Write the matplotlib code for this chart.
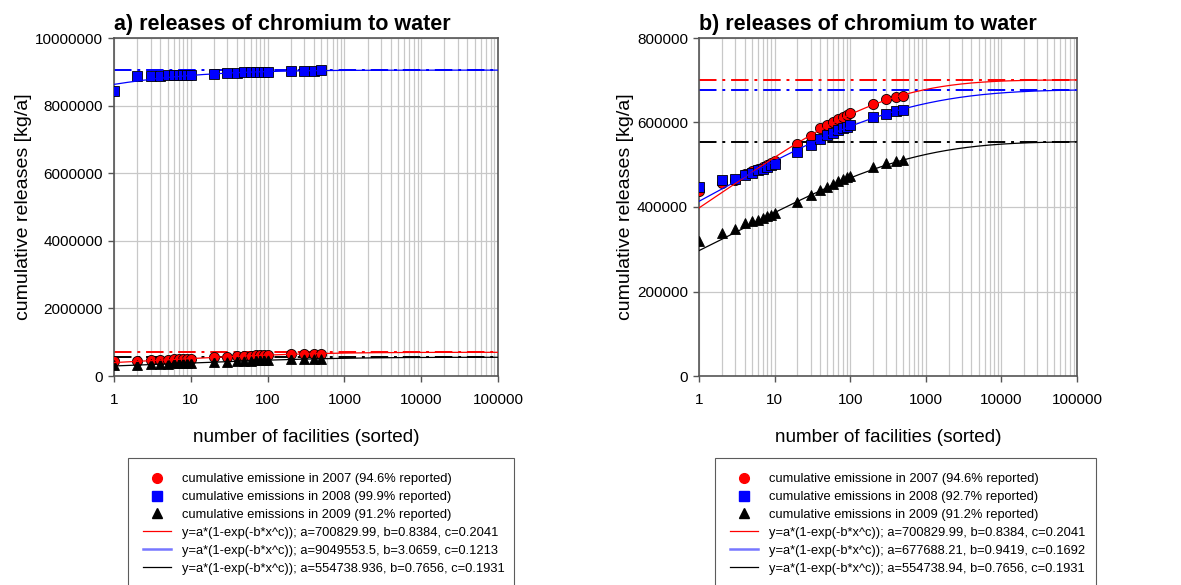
import numpy as np
import matplotlib
matplotlib.use('Agg')
import matplotlib.pyplot as plt
from matplotlib.lines import Line2D

plt.rcParams['font.family'] = ['Liberation Sans', 'DejaVu Sans']

# number of facilities (sorted)
facilities = [1, 2, 3, 4, 5, 6, 7, 8, 9, 10,
              20, 30, 40, 50, 60, 70, 80, 90, 100,
              200, 300, 400, 500]

# cumulative releases [kg/a]
rel_2007 = [438000, 457000, 465000, 477000, 485000, 491000, 495000, 500000, 505000, 510000,
            550000, 567000, 586000, 593000, 601000, 608000, 613000, 617000, 622000,
            643000, 655000, 660000, 662000]
rel_2008_a = [8420000, 8870000, 8880000, 8890000, 8900000, 8900000, 8905000, 8910000, 8910000, 8915000,
              8940000, 8960000, 8970000, 8980000, 8985000, 8990000, 9000000, 9000000, 9005000,
              9020000, 9030000, 9035000, 9040000]
rel_2008_b = [447000, 463000, 467000, 475000, 481000, 487000, 491000, 495000, 499000, 501000,
              530000, 546000, 562000, 570000, 576000, 582000, 586000, 589000, 593000,
              612000, 621000, 627000, 629000]
rel_2009 = [320000, 338000, 349000, 361000, 366000, 370000, 375000, 379000, 382000, 386000,
            412000, 428000, 440000, 447000, 455000, 462000, 466000, 470000, 473000,
            495000, 503000, 509000, 511000]

# fit parameters y=a*(1-exp(-b*x^c))
fit_2007 = (700829.99, 0.8384, 0.2041)
fit_2008_a = (9049553.5, 3.0659, 0.1213)
fit_2008_b = (677688.21, 0.9419, 0.1692)
fit_2009 = (554738.936, 0.7656, 0.1931)

labels_pts_a = ['cumulative emissione in 2007 (94.6% reported)',
                'cumulative emissions in 2008 (99.9% reported)',
                'cumulative emissions in 2009 (91.2% reported)']
labels_pts_b = ['cumulative emissione in 2007 (94.6% reported)',
                'cumulative emissions in 2008 (92.7% reported)',
                'cumulative emissions in 2009 (91.2% reported)']
labels_fit_a = ['y=a*(1-exp(-b*x^c)); a=700829.99, b=0.8384, c=0.2041',
                'y=a*(1-exp(-b*x^c)); a=9049553.5, b=3.0659, c=0.1213',
                'y=a*(1-exp(-b*x^c)); a=554738.936, b=0.7656, c=0.1931']
labels_fit_b = ['y=a*(1-exp(-b*x^c)); a=700829.99, b=0.8384, c=0.2041',
                'y=a*(1-exp(-b*x^c)); a=677688.21, b=0.9419, c=0.1692',
                'y=a*(1-exp(-b*x^c)); a=554738.94, b=0.7656, c=0.1931']

colors = ['#ff0000', '#0000ff', '#000000']
markers = ['o', 's', '^']

W, H = 1181, 585
fig = plt.figure(figsize=(W / 100, H / 100), dpi=100)


def fx(px):
    return px / W


def fy(py):
    return 1 - py / H


def model(x, p):
    a, b, c = p
    return a * (1 - np.exp(-b * x ** c))


def draw_panel(ax, series, fits, title, ymax, ystep, lab_pts, lab_fit, leg_box):
    xs = np.logspace(0, 5, 400)
    for (a, b, c), col in zip(fits, colors):
        ax.axhline(a, color=col, lw=1.4, ls=(0, (9, 3, 1.5, 3)), zorder=2)
    for vals, col, m in zip(series, colors, markers):
        ax.plot(facilities, vals, ls='none', marker=m, ms=7.3, mfc=col,
                mec='black', mew=0.6, zorder=3)
    for p, col in zip(fits, colors):
        ax.plot(xs, model(xs, p), color=col, lw=0.9, zorder=4)

    ax.set_xscale('log')
    ax.set_xlim(1, 100000)
    ax.set_ylim(0, ymax)
    ax.set_xticks([1, 10, 100, 1000, 10000, 100000])
    ax.set_xticklabels(['1', '10', '100', '1000', '10000', '100000'])
    ax.set_yticks(np.arange(0, ymax + 1, ystep))
    ax.set_yticklabels([str(int(v)) for v in np.arange(0, ymax + 1, ystep)])
    ax.grid(True, which='both', axis='x', color='#c8c8c8', lw=0.9)
    ax.grid(True, which='major', axis='y', color='#c8c8c8', lw=0.9)
    ax.set_axisbelow(True)
    ax.tick_params(which='minor', length=0)
    ax.tick_params(which='major', direction='out', length=4, width=1,
                   color='#555555', labelsize=11, pad=4)
    ax.tick_params(axis='x', pad=8)
    for s in ax.spines.values():
        s.set_color('#555555')
        s.set_linewidth(1.2)
    ax.set_xlabel('number of facilities (sorted)', fontsize=13.6, labelpad=16)
    ax.set_ylabel('cumulative releases [kg/a]', fontsize=14, labelpad=2)
    ax.set_title(title, fontsize=15.5, fontweight='bold', loc='left', pad=6)

    handles = []
    for col, m in zip(colors, markers):
        handles.append(Line2D([], [], ls='none', marker=m, ms=7, mfc=col, mec=col))
    handles.append(Line2D([], [], color='#ff0000', lw=0.9))
    handles.append(Line2D([], [], color='#7777ff', lw=1.8))
    handles.append(Line2D([], [], color='#000000', lw=0.9))
    x0, y0, x1 = leg_box
    leg = fig.legend(handles, lab_pts + lab_fit, loc='upper left',
                     bbox_to_anchor=(fx(x0), fy(y0), fx(x1) - fx(x0), 0.001),
                     mode='expand', fontsize=9.3, frameon=True, fancybox=False,
                     edgecolor='#333333', handlelength=2.2, labelspacing=0.45,
                     borderpad=1.15, handletextpad=0.8, borderaxespad=0)
    leg.get_frame().set_linewidth(0.8)


ax_a = fig.add_axes([fx(114), fy(376), fx(498) - fx(114), fy(38) - fy(376)])
ax_b = fig.add_axes([fx(699), fy(376), fx(1077) - fx(699), fy(38) - fy(376)])

draw_panel(ax_a, [rel_2007, rel_2008_a, rel_2009], [fit_2007, fit_2008_a, fit_2009],
           'a) releases of chromium to water', 10000000, 2000000,
           labels_pts_a, labels_fit_a, (128, 459, 514))
draw_panel(ax_b, [rel_2007, rel_2008_b, rel_2009], [fit_2007, fit_2008_b, fit_2009],
           'b) releases of chromium to water', 800000, 200000,
           labels_pts_b, labels_fit_b, (715, 459, 1096))

fig.savefig('out.png', dpi=100)
